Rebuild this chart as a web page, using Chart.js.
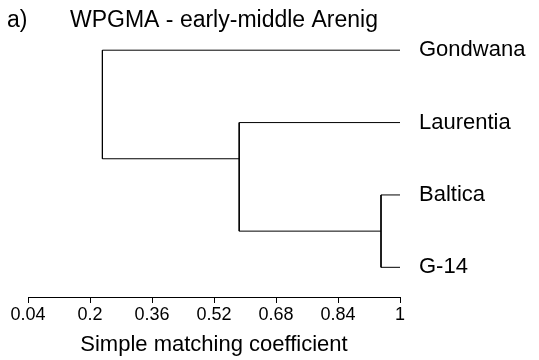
<!DOCTYPE html>
<html>
<head>
    <title>WPGMA - early-middle Arenig</title>
    <script src="https://cdn.jsdelivr.net/npm/chart.js@4"></script>
    <style>
        body { margin: 0; background: #fff; }
        .chart-container { width: 539px; height: 360px; position: relative; }
    </style>
</head>
<body>
    <div class="chart-container">
        <canvas id="dendro"></canvas>
    </div>

    <script>
        // leaves, top to bottom
        const leafNames = ['Gondwana', 'Laurentia', 'Baltica', 'G-14'];
        const leafRows = [1, 2, 3, 4];

        // merges: children (leaf index as 'L0', node index as 'N0'), join level, row of the node
        const mergeLeft = ['L2', 'L1', 'L0'];
        const mergeRight = ['L3', 'N0', 'N1'];
        const mergeLevel = [0.951, 0.585, 0.232];
        const nodeRows = [3.5, 2.5, 1.75];

        const xTicks = [0.04, 0.2, 0.36, 0.52, 0.68, 0.84, 1];

        const font = 'Liberation Sans, Arial, Helvetica, sans-serif';

        function child(ref) {
            const i = parseInt(ref.slice(1));
            if (ref[0] === 'L') return { x: 1, y: leafRows[i] };
            return { x: mergeLevel[i], y: nodeRows[i] };
        }

        const datasets = mergeLevel.map((h, i) => {
            const a = child(mergeLeft[i]);
            const b = child(mergeRight[i]);
            return {
                data: [
                    { x: a.x, y: a.y },
                    { x: h, y: a.y },
                    { x: h, y: b.y },
                    { x: b.x, y: b.y }
                ],
                showLine: true,
                borderColor: '#000',
                borderWidth: 1,
                pointRadius: 0,
                tension: 0
            };
        });

        const titlePlugin = {
            id: 'panelTitle',
            afterDraw(chart) {
                const c = chart.ctx;
                c.save();
                c.fillStyle = '#000';
                c.font = '23px ' + font;
                c.textBaseline = 'alphabetic';
                c.fillText('a)', 7, 27);
                c.fillText('WPGMA - early-middle Arenig', 70, 27);
                c.restore();
            }
        };

        new Chart(document.getElementById('dendro'), {
            type: 'scatter',
            data: { datasets },
            plugins: [titlePlugin],
            options: {
                responsive: true,
                maintainAspectRatio: false,
                animation: false,
                layout: { padding: { left: 28, top: 14, right: 0, bottom: 0 } },
                plugins: {
                    legend: { display: false },
                    tooltip: { enabled: false }
                },
                scales: {
                    x: {
                        type: 'linear',
                        min: 0.04,
                        max: 1,
                        afterBuildTicks: s => { s.ticks = xTicks.map(v => ({ value: v })); },
                        afterFit: s => { s.height = 63; s.paddingLeft = 0; s.paddingRight = 0; },
                        grid: { drawOnChartArea: false, drawTicks: true, tickLength: 6, color: '#000' },
                        border: { display: true, color: '#000', width: 1 },
                        ticks: {
                            color: '#000',
                            padding: 1,
                            maxRotation: 0,
                            autoSkip: false,
                            font: { family: font, size: 18 },
                            callback: v => String(+v.toFixed(2))
                        },
                        title: {
                            display: true,
                            text: 'Simple matching coefficient',
                            color: '#000',
                            font: { family: font, size: 22 },
                            padding: { top: 0, bottom: 2 }
                        }
                    },
                    y: {
                        type: 'linear',
                        position: 'right',
                        reverse: true,
                        min: 0.5,
                        max: 4.41,
                        afterBuildTicks: s => { s.ticks = leafRows.map(v => ({ value: v })); },
                        afterFit: s => { s.width = 139; s.paddingTop = 0; s.paddingBottom = 0; },
                        grid: { display: false, drawTicks: false },
                        border: { display: false },
                        ticks: {
                            color: '#000',
                            padding: 19,
                            autoSkip: false,
                            font: { family: font, size: 22 },
                            callback: (v, i) => leafNames[i]
                        }
                    }
                }
            }
        });
    </script>
</body>
</html>
